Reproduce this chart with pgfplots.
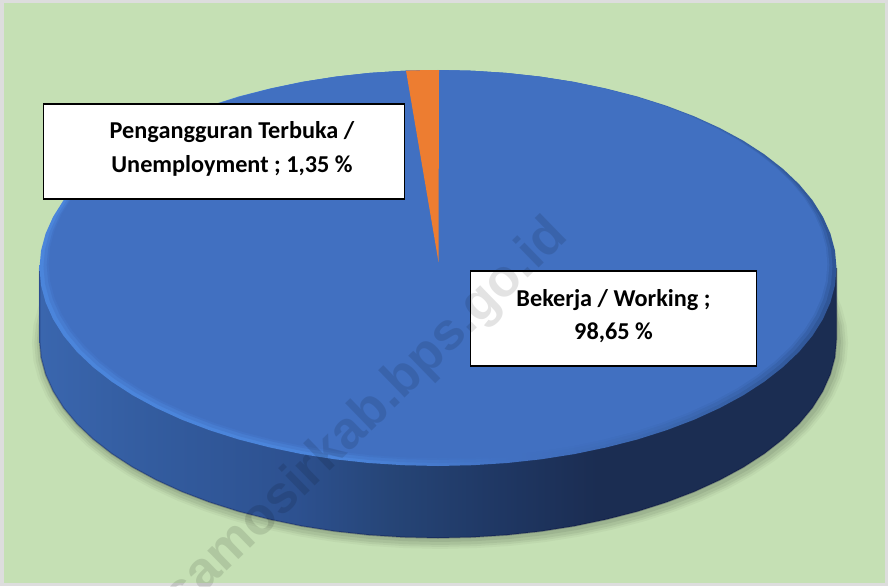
\documentclass[border=0pt]{standalone}
\usepackage{pgfplots}
\usepackage{pgfplotstable}
\pgfplotsset{compat=1.18}
\usepackage{fontspec}
\setmainfont{Carlito}
\newfontfamily\wmfont{Liberation Sans}
\definecolor{bgc}{HTML}{C5E0B4}
\definecolor{framec}{HTML}{DDDDDD}
\definecolor{facec}{HTML}{4170C1}
\definecolor{orangec}{HTML}{ED7D31}
\definecolor{sa}{HTML}{3A66AE}
\definecolor{sb}{HTML}{335C9F}
\definecolor{sc}{HTML}{2D5190}
\definecolor{sd}{HTML}{264577}
\definecolor{se}{HTML}{1F3763}
\definecolor{sf}{HTML}{1B2D52}
\definecolor{ra}{HTML}{4B85DB}
\definecolor{rb}{HTML}{2F5596}
\pgfdeclarehorizontalshading{sideshade}{100bp}{
 color(0bp)=(sa);color(25bp)=(sa);color(32bp)=(sb);color(41bp)=(sc);
 color(47bp)=(sd);color(54bp)=(se);color(60bp)=(sf);color(100bp)=(sf)}
\pgfdeclarehorizontalshading{rimshade}{100bp}{
 color(0bp)=(ra);color(25bp)=(ra);color(44bp)=(ra);color(55bp)=(facec);
 color(65bp)=(sa);color(75bp)=(rb);color(100bp)=(rb)}
% ellipse outline, in pixels from its centre (a=398.5, b=198)
\pgfplotstableread{
dx dy
398.5 0
397.0 17.3
392.4 34.4
384.9 51.2
374.5 67.7
361.2 83.7
345.1 99.0
326.4 113.6
305.3 127.3
281.8 140.0
256.2 151.7
228.6 162.2
199.3 171.5
168.4 179.4
136.3 186.1
103.1 191.3
69.2 195.0
34.7 197.2
0 198
-34.7 197.2
-69.2 195.0
-103.1 191.3
-136.3 186.1
-168.4 179.4
-199.3 171.5
-228.6 162.2
-256.2 151.7
-281.8 140.0
-305.3 127.3
-326.4 113.6
-345.1 99.0
-361.2 83.7
-374.5 67.7
-384.9 51.2
-392.4 34.4
-397.0 17.3
-398.5 0
-397.0 -17.3
-392.4 -34.4
-384.9 -51.2
-374.5 -67.7
-361.2 -83.7
-345.1 -99.0
-326.4 -113.6
-305.3 -127.3
-281.8 -140.0
-256.2 -151.7
-228.6 -162.2
-199.3 -171.5
-168.4 -179.4
-136.3 -186.1
-103.1 -191.3
-69.2 -195.0
-34.7 -197.2
0 -198
34.7 -197.2
69.2 -195.0
103.1 -191.3
136.3 -186.1
168.4 -179.4
199.3 -171.5
228.6 -162.2
256.2 -151.7
281.8 -140.0
305.3 -127.3
326.4 -113.6
345.1 -99.0
361.2 -83.7
374.5 -67.7
384.9 -51.2
392.4 -34.4
397.0 -17.3
}\ellipsetable
% outline of the visible side wall, from the centre of the lower ellipse
\pgfplotstableread{
dx dy
-398.5 -72
-398.5 0
-397.0 17.3
-392.4 34.4
-384.9 51.2
-374.5 67.7
-361.2 83.7
-345.1 99.0
-326.4 113.6
-305.3 127.3
-281.8 140.0
-256.2 151.7
-228.6 162.2
-199.3 171.5
-168.4 179.4
-136.3 186.1
-103.1 191.3
-69.2 195.0
-34.7 197.2
0 198
34.7 197.2
69.2 195.0
103.1 191.3
136.3 186.1
168.4 179.4
199.3 171.5
228.6 162.2
256.2 151.7
281.8 140.0
305.3 127.3
326.4 113.6
345.1 99.0
361.2 83.7
374.5 67.7
384.9 51.2
392.4 34.4
397.0 17.3
398.5 0
398.5 -72
}\sidetable
\newcommand{\ringplot}[5]{% options, cx, cy, sx, sy
 \addplot[draw=none,#1] table[x expr={#2+\thisrow{dx}*#4},y expr={#3+\thisrow{dy}*#5}] {\ellipsetable} -- cycle;}
\begin{document}
\begin{tikzpicture}
\clip (0,0) rectangle (888pt,586pt);
\begin{axis}[at={(0,0)},anchor=south west,scale only axis,width=888pt,height=586pt,
  xmin=0,xmax=888,ymin=0,ymax=586,y dir=reverse,hide axis,clip=false,no markers]
% background and frame
\addplot[fill=framec,draw=none] coordinates {(0,0)(888,0)(888,586)(0,586)} -- cycle;
\addplot[fill=bgc,draw=none] coordinates {(4,3)(885,3)(885,583)(4,583)} -- cycle;
% soft shadow
\ringplot{fill=black!45!bgc,fill opacity=.08}{440}{343}{1.024}{1.04}
\ringplot{fill=black!45!bgc,fill opacity=.11}{440}{343}{1.018}{1.03}
\ringplot{fill=black!45!bgc,fill opacity=.14}{440}{343}{1.012}{1.02}
\ringplot{fill=black!45!bgc,fill opacity=.18}{440}{342}{1.006}{1.01}
% side wall
\addplot[draw=none,shading=sideshade] table[x expr={438+\thisrow{dx}},y expr={340+\thisrow{dy}}] {\sidetable} -- cycle;
\addplot[draw=black!80!blue,draw opacity=.25,line width=1.5pt] table[x expr={438+\thisrow{dx}},y expr={340+\thisrow{dy}}] {\sidetable};
% top face: bevel rim then face
\ringplot{shading=rimshade}{438}{268}{1}{1}
\ringplot{fill=facec,fill opacity=.4}{438}{266.5}{.990}{.9924}
\ringplot{fill=facec,fill opacity=.6}{438}{265}{.982}{.9848}
\ringplot{fill=facec}{438}{264}{.977}{.9798}
% small slice
\addplot[fill=orangec,draw=none] coordinates {(439,70)(422,70.2)(406,70.6)(438.5,262)} -- cycle;
% label boxes
\node[draw=black,line width=1.5pt,fill=white,minimum width=361pt,minimum height=95pt,inner sep=0pt,anchor=center] at (axis cs:224,151.5) {};
\node[draw=black,line width=1.5pt,fill=white,minimum width=286pt,minimum height=95pt,inner sep=0pt,anchor=center] at (axis cs:613.5,318.5) {};
% watermark
\node[rotate=44.2,text=black,opacity=.11,font=\wmfont\bfseries\fontsize{52.5}{52.5}\selectfont,anchor=center] at (axis cs:367,416.5) {samosirkab.bps.go.id};
% label texts
\node[font=\bfseries\fontsize{24.25}{34}\selectfont,align=center,anchor=center,inner sep=0pt,text=black] at (axis cs:232,149) {Pengangguran Terbuka /\\Unemployment ; 1,35 \%};
\node[font=\bfseries\fontsize{24.25}{33}\selectfont,align=center,anchor=center,inner sep=0pt,text=black] at (axis cs:613.5,316.5) {Bekerja / Working ;\\98,65 \%};
\end{axis}
\end{tikzpicture}
\end{document}
